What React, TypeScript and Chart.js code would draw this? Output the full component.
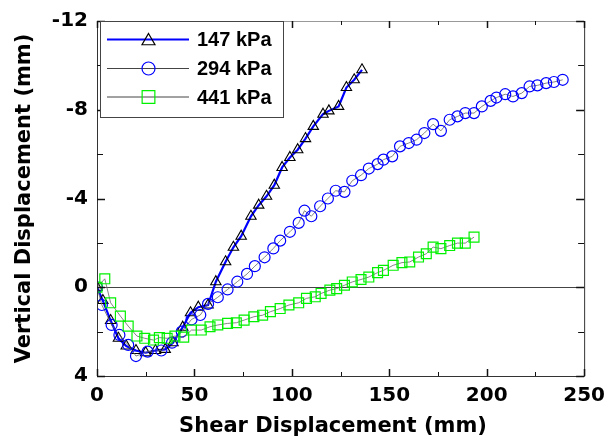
import React, { useEffect, useRef } from 'react';
import { Chart, registerables } from 'chart.js';

Chart.register(...registerables);

// ---- data ----
const seriesLabels = ['147 kPa', '294 kPa', '441 kPa'];
const xTickValues = [0, 50, 100, 150, 200, 250];
const yTickValues = [-12, -8, -4, 0, 4];
const xAxisTitle = 'Shear Displacement (mm)';
const yAxisTitle = 'Vertical Displacement (mm)';

const x147 = [0, 3, 7, 11, 15, 20, 25, 30, 35, 39, 44, 48, 52, 57, 61, 66, 70, 74, 79, 83, 87, 91, 95, 99, 103, 107, 111, 116, 119, 124, 128, 132, 136];
const y147 = [0, 0.6, 1.5, 2.3, 2.65, 2.85, 2.95, 2.85, 2.8, 2.5, 1.8, 1.15, 0.9, 0.8, -0.25, -1.15, -1.8, -2.3, -3.2, -3.7, -4.1, -4.6, -5.4, -5.85, -6.2, -6.7, -7.25, -7.8, -7.95, -8.15, -9.0, -9.35, -9.8];

const x294 = [0, 2.5, 7.5, 11.5, 16, 20, 26, 33, 38.5, 43.5, 48.5, 53, 57, 62, 67, 72, 77, 81, 86, 90.5, 94, 99, 103.5, 106.5, 110, 114.5, 118.5, 122.5, 127, 131, 135.5, 139.5, 144, 147, 151.5, 155.5, 160, 164, 168, 172.5, 176.5, 181, 185, 189, 193.5, 197.5, 202, 205, 209.5, 213.5, 218, 222, 226, 230.5, 234.5, 239];
const y294 = [0, 0.8, 1.7, 2.15, 2.6, 3.1, 2.9, 2.85, 2.5, 2.0, 1.45, 1.25, 0.75, 0.45, 0.1, -0.25, -0.6, -0.95, -1.35, -1.75, -2.1, -2.5, -2.9, -3.45, -3.2, -3.65, -4.0, -4.35, -4.3, -4.8, -5.05, -5.35, -5.55, -5.75, -5.9, -6.35, -6.5, -6.65, -6.95, -7.35, -7.05, -7.55, -7.7, -7.85, -7.85, -8.15, -8.4, -8.55, -8.7, -8.6, -8.75, -9.05, -9.1, -9.2, -9.25, -9.35];

const x441 = [0, 4, 7, 12, 16, 20.5, 24.5, 29, 32, 36, 40, 44.5, 48.5, 53.5, 58, 62, 67, 71.5, 75.5, 80.5, 85, 89, 94, 98.5, 103.5, 107.5, 112, 115, 119.5, 123, 127, 131, 135.5, 139.5, 144, 147, 152, 156.5, 160.5, 165, 169, 172.5, 176.5, 181, 185, 189, 193.5];
const y441 = [0, -0.38, 0.7, 1.3, 1.75, 2.2, 2.3, 2.38, 2.27, 2.3, 2.2, 2.25, 1.93, 1.93, 1.78, 1.7, 1.63, 1.6, 1.48, 1.33, 1.26, 1.1, 0.96, 0.8, 0.7, 0.5, 0.43, 0.28, 0.13, 0.06, -0.09, -0.24, -0.35, -0.46, -0.66, -0.76, -0.99, -1.11, -1.14, -1.36, -1.51, -1.81, -1.74, -1.88, -1.99, -1.99, -2.26];

const toPoints = (xs: number[], ys: number[]) => xs.map((x, i) => ({ x, y: ys[i] }));

const TICK_FONT = 'DejaVu Sans';
const GREEN = '#00f000';
const BLUE = '#0000ff';

function drawMarker(ctx: CanvasRenderingContext2D, style: string, x: number, y: number, r: number, color: string) {
  ctx.save();
  ctx.strokeStyle = color;
  ctx.lineWidth = 1.2;
  ctx.beginPath();
  if (style === 'triangle') {
    ctx.moveTo(x, y - r);
    ctx.lineTo(x + r * Math.sin(2 * Math.PI / 3), y - r * Math.cos(2 * Math.PI / 3));
    ctx.lineTo(x + r * Math.sin(4 * Math.PI / 3), y - r * Math.cos(4 * Math.PI / 3));
    ctx.closePath();
  } else if (style === 'circle') {
    ctx.arc(x, y, r, 0, Math.PI * 2);
  } else {
    const s = r * Math.SQRT1_2;
    ctx.rect(x - s, y - s, 2 * s, 2 * s);
  }
  ctx.stroke();
  ctx.restore();
}

const framePlugin = {
  id: 'framePlugin',
  afterDraw(chart: any) {
    const { ctx, chartArea: a, scales } = chart;
    const xs = scales.x;
    const ys = scales.y;
    ctx.save();
    // frame
    ctx.lineWidth = 1;
    ctx.strokeStyle = '#333';
    ctx.beginPath();
    ctx.moveTo(a.left + 0.5, a.top);
    ctx.lineTo(a.left + 0.5, a.bottom + 0.5);
    ctx.lineTo(a.right + 0.5, a.bottom + 0.5);
    ctx.lineTo(a.right + 0.5, a.top);
    ctx.stroke();
    ctx.strokeStyle = '#999';
    ctx.beginPath();
    ctx.moveTo(a.left, a.top + 0.5);
    ctx.lineTo(a.right, a.top + 0.5);
    ctx.stroke();
    // ticks
    ctx.strokeStyle = '#111';
    for (let v = 0; v <= 250; v += 25) {
      const major = v % 50 === 0;
      const len = major ? 7 : 4;
      ctx.lineWidth = major ? 1.5 : 1;
      const px = Math.round(xs.getPixelForValue(v)) + 0.5;
      ctx.beginPath();
      ctx.moveTo(px, a.bottom);
      ctx.lineTo(px, a.bottom - len);
      ctx.moveTo(px, a.top);
      ctx.lineTo(px, a.top + len);
      ctx.stroke();
    }
    for (let v = -12; v <= 4; v += 2) {
      const major = v % 4 === 0;
      const len = major ? 8 : 6;
      ctx.lineWidth = major ? 1.5 : 1;
      const py = Math.round(ys.getPixelForValue(v)) + 0.5;
      ctx.beginPath();
      ctx.moveTo(a.left, py);
      ctx.lineTo(a.left + len, py);
      ctx.moveTo(a.right, py);
      ctx.lineTo(a.right - len, py);
      ctx.stroke();
    }
    // axis titles
    ctx.fillStyle = '#000';
    ctx.font = `bold 21px "${TICK_FONT}"`;
    ctx.textAlign = 'center';
    ctx.textBaseline = 'alphabetic';
    ctx.fillText(xAxisTitle, 333, 432);
    ctx.save();
    ctx.translate(30, (a.top + a.bottom) / 2);
    ctx.rotate(-Math.PI / 2);
    ctx.fillText(yAxisTitle, 0, 0);
    ctx.restore();

    // legend
    const bx = 100, by = 21, bw = 183, bh = 96;
    ctx.fillStyle = '#fff';
    ctx.fillRect(bx, by, bw, bh);
    ctx.lineWidth = 1;
    ctx.strokeStyle = '#444';
    ctx.strokeRect(bx + 0.5, by + 0.5, bw, bh);
    const rows = [39.5, 68.5, 97];
    const markers = ['triangle', 'circle', 'rect'];
    const mColors = ['#000', BLUE, GREEN];
    const lColors = [BLUE, '#444', '#444'];
    const lWidths = [2.2, 1, 1];
    const mSizes = [7.5, 6.5, 9];
    for (let i = 0; i < 3; i++) {
      ctx.strokeStyle = lColors[i];
      ctx.lineWidth = lWidths[i];
      ctx.beginPath();
      ctx.moveTo(107, rows[i]);
      ctx.lineTo(189, rows[i]);
      ctx.stroke();
      drawMarker(ctx, markers[i], 148.5, rows[i] + (i === 0 ? 1.5 : 0), mSizes[i], mColors[i]);
      ctx.fillStyle = '#000';
      ctx.font = 'bold 20px "Liberation Sans"';
      ctx.textAlign = 'left';
      ctx.textBaseline = 'middle';
      ctx.fillText(chart.data.datasets[i].label, 197, rows[i] + 1);
    }
    ctx.restore();
  },
};

export default function App() {
  const ref = useRef<HTMLCanvasElement>(null);
  useEffect(() => {
    if (!ref.current) return;
    const chart = new Chart(ref.current, {
      type: 'line',
      data: {
        datasets: [
          {
            label: seriesLabels[0],
            data: toPoints(x147, y147),
            borderColor: BLUE,
            borderWidth: 2.2,
            pointStyle: 'triangle',
            pointRadius: 6,
            pointBorderColor: '#000',
            pointBackgroundColor: 'transparent',
            pointBorderWidth: 1.1,
            order: 3,
          },
          {
            label: seriesLabels[1],
            data: toPoints(x294, y294),
            borderColor: '#666',
            borderWidth: 0.8,
            pointStyle: 'circle',
            pointRadius: 5.5,
            pointBorderColor: BLUE,
            pointBackgroundColor: 'transparent',
            pointBorderWidth: 1.2,
            order: 2,
          },
          {
            label: seriesLabels[2],
            data: toPoints(x441, y441),
            borderColor: '#666',
            borderWidth: 0.8,
            pointStyle: 'rect',
            pointRadius: 7,
            pointBorderColor: GREEN,
            pointBackgroundColor: 'transparent',
            pointBorderWidth: 1.2,
            order: 1,
          },
        ],
      },
      options: {
        responsive: false,
        animation: false,
        layout: { padding: { top: 19, right: 21, left: 0, bottom: 0 } },
        plugins: { legend: { display: false }, tooltip: { enabled: false } },
        scales: {
          x: {
            type: 'linear',
            min: 0,
            max: 250,
            afterFit: (s: any) => { s.height = 63; },
            afterBuildTicks: (s: any) => { s.ticks = xTickValues.map((v) => ({ value: v })); },
            ticks: {
              color: '#000',
              font: { family: TICK_FONT, size: 20, weight: 'bold' },
              padding: 8,
              maxRotation: 0,
              autoSkip: false,
            },
            grid: { display: false, drawTicks: false },
            border: { display: false },
          },
          y: {
            type: 'linear',
            min: -12,
            max: 4,
            reverse: true,
            afterFit: (s: any) => { s.width = 97; },
            afterBuildTicks: (s: any) => { s.ticks = yTickValues.map((v) => ({ value: v })); },
            ticks: {
              color: '#000',
              font: { family: TICK_FONT, size: 20, weight: 'bold' },
              padding: 9,
              autoSkip: false,
            },
            grid: {
              drawTicks: false,
              color: (c: any) => (c.tick && c.tick.value === 0 ? '#444' : 'rgba(0,0,0,0)'),
              lineWidth: 1,
            },
            border: { display: false },
          },
        },
      },
      plugins: [framePlugin],
    });
    return () => chart.destroy();
  }, []);
  return (
    <div style={{ position: 'absolute', left: 0, top: 0, width: 613, height: 439, background: '#fff' }}>
      <canvas ref={ref} width={613} height={439} />
    </div>
  );
}
